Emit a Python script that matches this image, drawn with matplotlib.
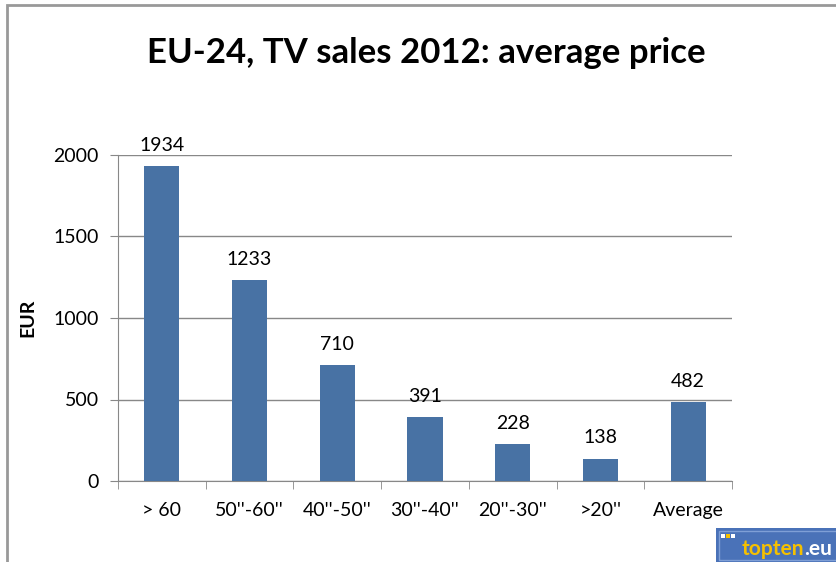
import matplotlib
matplotlib.use("Agg")
import matplotlib.pyplot as plt
from matplotlib.patches import Rectangle

categories = ["> 60", "50''-60''", "40''-50''", "30''-40''", "20''-30''", ">20''", "Average"]
values = [1934, 1233, 710, 391, 228, 138, 482]
yticks = [0, 500, 1000, 1500, 2000]

plt.rcParams['font.family'] = ['Lato', 'DejaVu Sans']

fig = plt.figure(figsize=(8.36, 5.62), dpi=100)
W, H = 836, 562
ax = fig.add_axes([118/W, 1-481/H, (732-118)/W, (481-155)/H])

x = list(range(len(categories)))
bars = ax.bar(x, values, width=0.4, color="#4872A4", zorder=3)
for xi, v in zip(x, values):
    ax.text(xi, v + 75, str(v), ha="center", va="bottom", fontsize=14)

ax.set_xlim(-0.5, len(categories) - 0.5)
ax.set_ylim(0, 2000)
ax.set_yticks(yticks)
ax.set_yticklabels([str(t) for t in yticks], fontsize=14)
ax.set_xticks(x)
ax.set_xticklabels(categories, fontsize=14)
ax.tick_params(axis="x", length=0, pad=15)
ax.set_xticks([i + 0.5 for i in range(-1, len(categories))], minor=True)
ax.tick_params(axis="x", which="minor", length=6, color="#888888", direction="out")
ax.tick_params(axis="y", length=6, color="#888888", direction="out", pad=8)
ax.grid(axis="y", color="#888888", linewidth=1, zorder=0)
for s in ["top", "right"]:
    ax.spines[s].set_visible(False)
for s in ["left", "bottom"]:
    ax.spines[s].set_color("#888888")
ax.set_ylabel("EUR", fontsize=14, fontweight="bold", labelpad=12)

fig.text(426/W, 1-53/H, "EU-24, TV sales 2012: average price", ha="center", va="center",
         fontsize=25, fontweight="bold")

# outer border
fig.patches.append(Rectangle((7/W, -0.1), 1.2, 1 - 5/H + 0.1, transform=fig.transFigure,
                             fill=False, edgecolor="#999999", linewidth=2))

# logo
fig.patches.append(Rectangle((716/W, 0), 130/W, 34/H, transform=fig.transFigure,
                             facecolor="#4A72B8", edgecolor="none"))
fig.patches.append(Rectangle((719/W, 2/H), 130/W, 29/H, transform=fig.transFigure,
                             fill=False, edgecolor="#7F9FD6", linewidth=1))
for sx, col in [(721, "white"), (726, "#F5C000"), (731, "white")]:
    fig.patches.append(Rectangle((sx/W, 24/H), 4/W, 4/H, transform=fig.transFigure,
                                 facecolor=col, edgecolor="none"))
t1 = fig.text(742/W, 13/H, "topten", color="#F5C000", fontsize=15, fontweight="bold", va="center")
fig.canvas.draw()
bb = t1.get_window_extent()
fig.text(bb.x1/W, 13/H, ".eu", color="white", fontsize=15, fontweight="bold", va="center")

fig.savefig("out.png", dpi=100)
